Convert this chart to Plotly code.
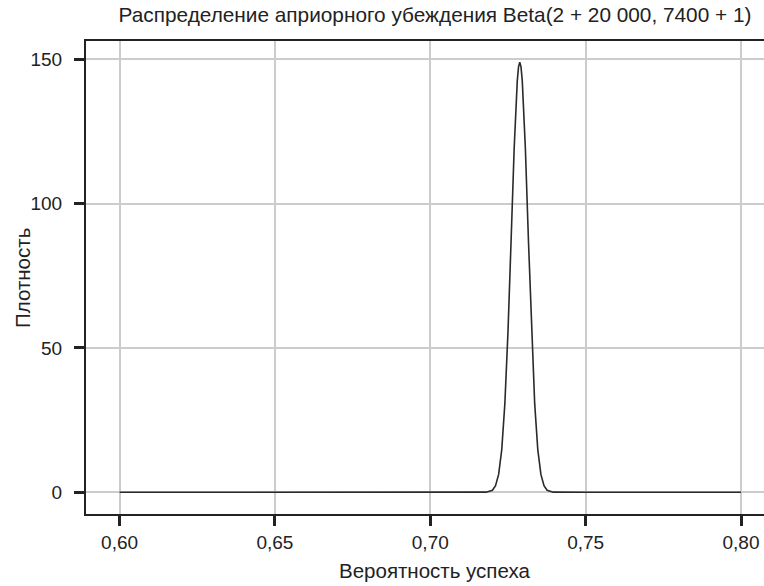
import plotly.graph_objects as go

# Values (density curve of the prior belief)
x_vals = [0.600, 0.650, 0.700, 0.712, 0.716, 0.718, 0.720, 0.721, 0.722, 0.723,
          0.724, 0.725, 0.726, 0.727, 0.728, 0.7284, 0.7288, 0.7292, 0.7296,
          0.7306, 0.7316, 0.7326, 0.7336, 0.7346, 0.7356, 0.7366, 0.7376,
          0.7396, 0.745, 0.750, 0.800]
y_vals = [0.0, 0.0, 0.0, 0.0, 0.0, 0.05, 0.7, 2.3, 6.2, 14.8,
          30.7, 55.4, 87.0, 119.3, 142.6, 147.4, 149.0, 147.4, 142.6,
          119.3, 87.0, 55.4, 30.7, 14.8, 6.2, 2.3, 0.7,
          0.05, 0.0, 0.0, 0.0]

x_ticks = [0.60, 0.65, 0.70, 0.75, 0.80]
y_ticks = [0, 50, 100, 150]

title_text = "Распределение априорного убеждения Beta(2 + 20 000, 7400 + 1)"
x_title = "Вероятность успеха"
y_title = "Плотность"

font_family = "Liberation Sans, Arial, Helvetica, sans-serif"

fig = go.Figure()
fig.add_trace(go.Scatter(
    x=x_vals, y=y_vals, mode="lines",
    line=dict(color="#2a2a2a", width=1.6),
    showlegend=False, hoverinfo="skip",
))

fig.update_layout(
    width=764, height=586,
    margin=dict(l=86, r=0, t=41, b=72),
    paper_bgcolor="white", plot_bgcolor="white",
    separators=", ",
    font=dict(family=font_family, size=19, color="#222222"),
    title=dict(text=title_text, x=435 / 764, xanchor="center", y=1 - 15 / 586, yanchor="middle",
               font=dict(size=20.8, color="#222222")),
    showlegend=False,
    annotations=[
        dict(text=x_title, xref="paper", yref="paper",
             x=(434 - 86) / (764 - 86), y=-(570 - 514) / (586 - 41 - 72),
             xanchor="center", yanchor="middle", showarrow=False,
             font=dict(size=20.5, color="#222222")),
        dict(text=y_title, xref="paper", yref="paper", textangle=-90,
             x=-(86 - 22) / (764 - 86), y=(514 - 278) / (586 - 41 - 72),
             xanchor="center", yanchor="middle", showarrow=False,
             font=dict(size=20.5, color="#222222")),
    ],
)

fig.update_xaxes(
    range=[0.5892, 0.8074],
    tickvals=x_ticks, tickformat=".2f",
    showgrid=True, gridcolor="#cccccc", gridwidth=2,
    zeroline=False,
    showline=True, linecolor="#222222", linewidth=2, mirror=True,
    ticks="outside", ticklen=10, tickwidth=3, tickcolor="#222222",
    tickfont=dict(size=19),
)
fig.update_yaxes(
    range=[-7.52, 156.34],
    tickvals=y_ticks,
    showgrid=True, gridcolor="#cccccc", gridwidth=2,
    zeroline=False,
    showline=True, linecolor="#222222", linewidth=2, mirror=False,
    ticks="outside", ticklen=10, tickwidth=3, tickcolor="#222222",
    tickfont=dict(size=19), ticklabelstandoff=8,
)

fig.write_html("out.html")
